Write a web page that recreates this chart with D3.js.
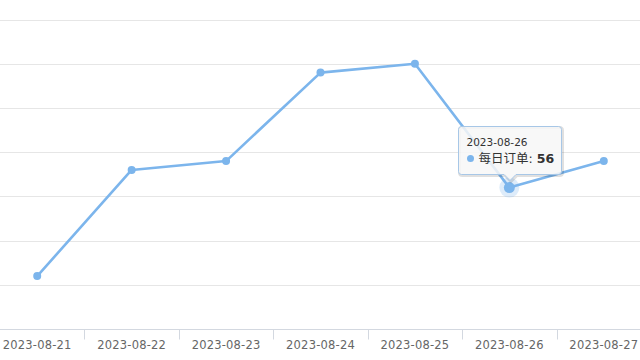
<!DOCTYPE html>
<html>
<head>
<meta charset="utf-8">
<script src="https://cdn.jsdelivr.net/npm/d3@7"></script>
<style>
  html, body { margin: 0; padding: 0; background: #fff; }
  svg { display: block; font-family: "DejaVu Sans", "Noto Sans CJK SC", sans-serif; }
</style>
</head>
<body>
<div id="chart"></div>
<script>
// Daily orders per date
var dates = ["2023-08-21", "2023-08-22", "2023-08-23", "2023-08-24", "2023-08-25", "2023-08-26", "2023-08-27"];
var orders = [46, 58, 59, 69, 70, 56, 59];
var yTicks = [40, 45, 50, 55, 60, 65, 70, 75];
var seriesName = "每日订单";
var hoverIndex = 5;

var width = 640, height = 360;
var color = "#7cb5ec";

var svg = d3.select("#chart").append("svg")
    .attr("width", width)
    .attr("height", height);

// plot area is wider than the window: the left labels were cropped off
var x = d3.scaleBand().domain(dates).range([-10, 651]).padding(0);
var y = d3.scaleLinear().domain([40, 75]).range([329.2, 19.5]);

// Grid lines
svg.append("g")
    .selectAll("line")
    .data(yTicks.slice(1))
    .enter().append("line")
    .attr("x1", 0).attr("x2", width)
    .attr("y1", function(d) { return Math.round(y(d)) + 0.5; })
    .attr("y2", function(d) { return Math.round(y(d)) + 0.5; })
    .attr("stroke", "#e6e6e6")
    .attr("stroke-width", 1);

// X axis
var xAxis = svg.append("g")
    .attr("transform", "translate(0," + (Math.round(y(40)) + 0.5) + ")");

xAxis.append("line")
    .attr("x1", 0).attr("x2", width)
    .attr("stroke", "#d3d8e0");

// tick marks on band boundaries
xAxis.selectAll(".tick-mark")
    .data(dates.slice(1))
    .enter().append("line")
    .attr("class", "tick-mark")
    .attr("x1", function(d) { return Math.round(x(d)) + 0.5; })
    .attr("x2", function(d) { return Math.round(x(d)) + 0.5; })
    .attr("y1", 0).attr("y2", 10)
    .attr("stroke", "#d3d8e0");

xAxis.selectAll(".label")
    .data(dates)
    .enter().append("text")
    .attr("class", "label")
    .attr("x", function(d) { return x(d) + x.bandwidth() / 2; })
    .attr("y", 19)
    .attr("text-anchor", "middle")
    .attr("font-size", "11.5px")
    .attr("letter-spacing", "0.2px")
    .attr("fill", "#666")
    .text(function(d) { return d; });

// Series line
var points = dates.map(function(d, i) { return { date: d, value: orders[i] }; });
var line = d3.line()
    .x(function(d) { return x(d.date) + x.bandwidth() / 2; })
    .y(function(d) { return y(d.value); });

svg.append("path")
    .datum(points)
    .attr("d", line)
    .attr("fill", "none")
    .attr("stroke", color)
    .attr("stroke-width", 2.6)
    .attr("stroke-linejoin", "round");

svg.append("g")
    .selectAll("circle")
    .data(points)
    .enter().append("circle")
    .attr("cx", function(d) { return x(d.date) + x.bandwidth() / 2; })
    .attr("cy", function(d) { return y(d.value); })
    .attr("r", 4)
    .attr("fill", color);

// Hovered point with halo
var hp = points[hoverIndex];
var hx = x(hp.date) + x.bandwidth() / 2, hy = y(hp.value);
svg.append("circle")
    .attr("cx", hx).attr("cy", hy).attr("r", 10)
    .attr("fill", color).attr("opacity", 0.25);
svg.append("circle")
    .attr("cx", hx).attr("cy", hy).attr("r", 5.5)
    .attr("fill", color);

// Tooltip
var tw = 103, th = 48;
var tx = Math.round(hx - tw / 2) + 0.5, ty = Math.round(hy - 62) + 0.5;
var tip = svg.append("g").attr("transform", "translate(" + tx + "," + ty + ")");

var tipPath = "M3,0 H" + (tw - 3) + " Q" + tw + ",0 " + tw + ",3 V" + (th - 3) +
    " Q" + tw + "," + th + " " + (tw - 3) + "," + th +
    " H" + (tw / 2 + 6) + " L" + (tw / 2) + "," + (th + 6) + " L" + (tw / 2 - 6) + "," + th +
    " H3 Q0," + th + " 0," + (th - 3) + " V3 Q0,0 3,0 Z";

tip.append("path")
    .attr("d", tipPath)
    .attr("transform", "translate(1,1)")
    .attr("fill", "none")
    .attr("stroke", "rgba(0,0,0,0.12)")
    .attr("stroke-width", 3);
tip.append("path")
    .attr("d", tipPath)
    .attr("fill", "rgba(247,247,247,0.85)")
    .attr("stroke", "#a7c7e7")
    .attr("stroke-width", 1);

tip.append("text")
    .attr("x", 8).attr("y", 19)
    .attr("font-size", "10.5px")
    .attr("fill", "#333")
    .text(hp.date);

tip.append("circle")
    .attr("cx", 12).attr("cy", 32).attr("r", 3.5)
    .attr("fill", color);

var t2 = tip.append("text")
    .attr("x", 20).attr("y", 36.5)
    .attr("font-size", "12.5px")
    .attr("fill", "#333");
t2.append("tspan").text(seriesName + ": ");
t2.append("tspan").attr("font-weight", "bold").text(hp.value);
</script>
</body>
</html>
